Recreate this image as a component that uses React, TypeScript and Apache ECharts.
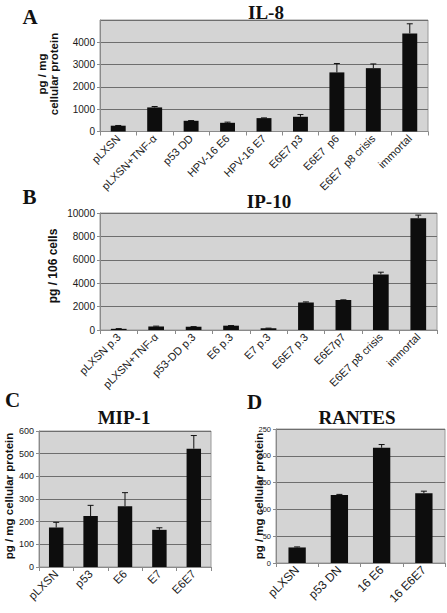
import React, { useEffect, useRef } from "react";
import * as echarts from "echarts";

// Panel A: IL-8
const catsA = ["pLXSN", "pLXSN+TNF-α", "p53 DD", "HPV-16 E6", "HPV-16 E7", "E6E7 p3", "E6E7  p6", "E6E7  p8 crisis", "immortal"];
const valsA = [260, 1080, 480, 390, 600, 660, 2650, 2840, 4400];
const errA = [270, 1120, 490, 420, 610, 760, 3050, 3030, 4830];

// Panel B: IP-10
const catsB = ["pLXSN p.3", "pLXSN+TNF-α", "p53-DD p.3", "E6 p.3", "E7 p.3", "E6E7 p.3", "E6E7p7", "E6E7 p8 crisis", "immortal"];
const valsB = [100, 300, 280, 370, 150, 2340, 2570, 4750, 9560];
const errB = [120, 330, 290, 380, 160, 2400, 2580, 4940, 9820];

// Panel C: MIP-1
const catsC = ["pLXSN", "p53", "E6", "E7", "E6E7"];
const valsC = [174, 225, 268, 164, 522];
const errC = [197, 272, 328, 173, 580];

// Panel D: RANTES
const catsD = ["pLXSN", "p53 DN", "16 E6", "16 E6E7"];
const valsD = [29, 127, 215, 130];
const errD = [30, 128, 221, 134];

const SANS = "'Liberation Sans', Arial, sans-serif";
const SERIF = "'Liberation Serif', 'Times New Roman', serif";

function makeErr(idx: number, vals: number[], errs: number[]) {
  return {
    type: "custom",
    xAxisIndex: idx,
    yAxisIndex: idx,
    z: 5,
    data: vals.map((v, i) => [i, v, errs[i]]),
    renderItem: (params: any, api: any) => {
      const i = api.value(0);
      const p0 = api.coord([i, api.value(1)]);
      const p1 = api.coord([i, api.value(2)]);
      const st = { stroke: "#111", lineWidth: 1 };
      return {
        type: "group",
        children: [
          { type: "line", shape: { x1: p0[0], y1: p0[1], x2: p1[0], y2: p1[1] }, style: st },
          { type: "line", shape: { x1: p1[0] - 3, y1: p1[1], x2: p1[0] + 3, y2: p1[1] }, style: st },
        ],
      };
    },
  };
}

export default function App() {
  const ref = useRef<HTMLDivElement>(null);
  useEffect(() => {
    document.body.style.margin = "0";
    const chart = echarts.init(ref.current!, undefined, { renderer: "svg" });
    const grids = [
      { left: 100, top: 20, width: 328, height: 111.5 },
      { left: 100, top: 213, width: 337, height: 117 },
      { left: 39, top: 431, width: 172, height: 136 },
      { left: 276, top: 429, width: 169, height: 134 },
    ].map((g) => ({ ...g, show: true, backgroundColor: "#d4d4d4", borderColor: "#9a9a9a", borderWidth: 1 }));

    const cats = [catsA, catsB, catsC, catsD];
    const xFont = [11, 11, 11.5, 12];
    const xAxes = cats.map((c, i) => ({
      type: "category",
      gridIndex: i,
      data: c,
      axisLine: { lineStyle: { color: "#8a8a8a" } },
      axisTick: { show: true, length: 4, lineStyle: { color: "#8a8a8a" } },
      axisLabel: {
        rotate: 45,
        interval: 0,
        fontSize: xFont[i],
        fontFamily: SANS,
        color: "#1a1a1a",
        margin: 5,
        hideOverlap: false,
      },
    }));
    const ymax = [5000, 10000, 600, 250];
    const yint = [1000, 2000, 100, 50];
    const yFont = [10, 10, 9, 7.5];
    const yAxes = ymax.map((m, i) => ({
      type: "value",
      gridIndex: i,
      min: 0,
      max: m,
      interval: yint[i],
      axisLine: { show: true, lineStyle: { color: "#8a8a8a" } },
      axisTick: { show: true, length: 3, lineStyle: { color: "#8a8a8a" } },
      splitLine: { show: true, lineStyle: { color: "#6e6e6e", width: 1 } },
      axisLabel: {
        fontSize: yFont[i],
        fontFamily: SANS,
        color: "#1a1a1a",
        margin: 5,
        showMaxLabel: i !== 0,
        formatter: (v: number) => String(v),
      },
    }));

    const vals = [valsA, valsB, valsC, valsD];
    const errs = [errA, errB, errC, errD];
    const bw = ["41%", "42%", "42%", "41%"];
    const series: any[] = [];
    vals.forEach((v, i) => {
      series.push({
        type: "bar",
        xAxisIndex: i,
        yAxisIndex: i,
        data: v,
        barWidth: bw[i],
        itemStyle: { color: "#0d0d0d" },
      });
      series.push(makeErr(i, v, errs[i]));
    });

    const txt = (text: string, x: number, y: number, size: number, family: string, rotate = 0) => ({
      type: "text",
      x,
      y,
      rotation: rotate,
      style: {
        text,
        fontSize: size,
        fontFamily: family,
        fontWeight: "bold",
        fill: "#111",
        align: "center",
        verticalAlign: "middle",
        lineHeight: size + 0.5,
      },
    });
    const R = Math.PI / 2;
    const graphic = [
      txt("A", 30, 17, 21, SERIF),
      txt("IL-8", 266, 12.5, 19, SERIF),
      txt("B", 29.5, 197, 21, SERIF),
      txt("IP-10", 269, 201, 19, SERIF),
      txt("C", 12.5, 400, 21, SERIF),
      txt("MIP-1", 124, 417, 19, SERIF),
      txt("D", 254.5, 402, 21, SERIF),
      txt("RANTES", 357, 417, 19, SERIF),
      txt("pg / mg\ncellular protein", 48, 74, 11.5, SANS, R),
      txt("pg / 106 cells", 53, 266, 12, SANS, R),
      txt("pg / mg cellular protein", 8.5, 496, 11.5, SANS, R),
      txt("pg / mg cellular protein", 259, 496, 11.5, SANS, R),
    ];

    chart.setOption({
      animation: false,
      backgroundColor: "#ffffff",
      grid: grids,
      xAxis: xAxes,
      yAxis: yAxes,
      series,
      graphic,
    });
    return () => chart.dispose();
  }, []);
  return <div ref={ref} style={{ width: 447, height: 613 }} />;
}
